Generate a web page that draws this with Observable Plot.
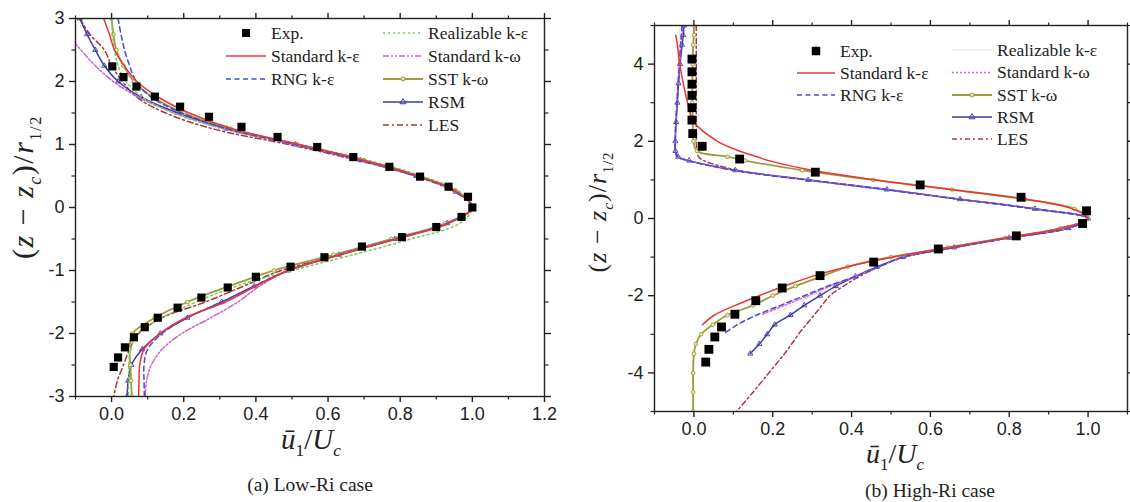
<!DOCTYPE html>
<html><head><meta charset="utf-8">
<script src="https://cdn.jsdelivr.net/npm/d3@7"></script>
<script src="https://cdn.jsdelivr.net/npm/@observablehq/plot@0.6"></script>
<style>
body{margin:0;background:#fff;}
#wrap{position:relative;width:1130px;height:502px;overflow:hidden;background:#fff;}
#a,#b{position:absolute;top:0;}
#a{left:0px} #b{left:570px}
</style></head><body><div id="wrap"><div id="a"></div><div id="b"></div></div>
<script>
// ---------------- DATA: (a) Low-Ri case ----------------
const lowY = [3,2.75,2.5,2.25,2,1.75,1.5,1.25,1,0.75,0.5,0.25,0,-0.25,-0.5,-0.75,-1,-1.25,-1.5,-1.75,-2,-2.25,-2.5,-2.75,-3];
const lowStdKe = [-0.022,-0.006,0.008,0.035,0.07,0.13,0.215,0.335,0.52,0.7,0.85,0.958,1.0,0.935,0.79,0.635,0.49,0.4,0.315,0.205,0.135,0.09,0.078,0.076,0.075];
const lowRNG   = [0.018,0.026,0.036,0.05,0.068,0.11,0.195,0.32,0.51,0.69,0.845,0.955,1.0,0.93,0.785,0.63,0.49,0.395,0.305,0.21,0.14,0.1,0.09,0.09,0.091];
const lowReal  = [0.0,0.003,0.008,0.018,0.04,0.085,0.17,0.31,0.52,0.71,0.86,0.965,1.0,0.965,0.83,0.67,0.5,0.345,0.235,0.14,0.072,0.052,0.048,0.047,0.047];
const lowStdKw = [-0.17,-0.125,-0.085,-0.045,0.005,0.075,0.175,0.31,0.505,0.69,0.845,0.955,1.0,0.93,0.785,0.63,0.49,0.41,0.35,0.275,0.195,0.14,0.11,0.097,0.093];
const lowSST   = [0.0,0.005,0.013,0.033,0.062,0.115,0.2,0.33,0.515,0.7,0.85,0.958,1.0,0.925,0.775,0.615,0.45,0.325,0.21,0.12,0.058,0.05,0.052,0.054,0.056];
const lowRSM   = [-0.088,-0.068,-0.045,-0.02,0.018,0.082,0.184,0.32,0.51,0.69,0.845,0.955,1.0,0.93,0.785,0.63,0.49,0.395,0.305,0.21,0.135,0.085,0.055,0.046,0.043];
const lowLES   = [-0.088,-0.06,-0.02,0.0,0.03,0.07,0.15,0.28,0.49,0.68,0.84,0.95,1.0,0.93,0.785,0.63,0.47,0.365,0.26,0.14,0.075,0.05,0.033,0.016,0.006];
const lowExpX  = [0.002,0.033,0.069,0.12,0.19,0.27,0.36,0.46,0.57,0.67,0.77,0.855,0.934,0.988,1.0,0.97,0.9,0.805,0.694,0.59,0.496,0.40,0.322,0.249,0.183,0.128,0.092,0.062,0.037,0.018,0.006];
const lowExpY  = [2.24,2.07,1.92,1.76,1.6,1.44,1.28,1.12,0.96,0.8,0.645,0.49,0.33,0.17,0.0,-0.15,-0.31,-0.47,-0.62,-0.79,-0.94,-1.10,-1.27,-1.43,-1.59,-1.75,-1.90,-2.06,-2.22,-2.38,-2.53];
const lowXMajor = [0,0.2,0.4,0.6,0.8,1.0,1.2];
const lowXMinor = [-0.1,0.1,0.3,0.5,0.7,0.9,1.1];
const lowYMajor = [-3,-2,-1,0,1,2,3];
const lowYMinor = [-2.5,-1.5,-0.5,0.5,1.5,2.5];

// ---------------- DATA: (b) High-Ri case ----------------
const highY = [5,4.75,4.5,4,3.5,3,2.5,2,1.75,1.6,1.5,1.25,1,0.75,0.5,0.25,0,-0.25,-0.5,-0.75,-1,-1.25,-1.5,-1.75,-2,-2.25,-2.5,-2.75,-3,-3.25,-3.5,-4,-4.5,-5];
const highStdKe = [null,-0.046,-0.042,-0.036,-0.027,-0.016,0.0,0.06,0.115,0.16,0.19,0.3,0.46,0.65,0.84,0.96,1.0,0.93,0.79,0.645,0.505,0.39,0.3,0.23,0.165,0.105,0.052,0.022,null,null,null,null,null,null];
const highRNG   = [-0.03,-0.032,-0.034,-0.037,-0.04,-0.043,-0.046,-0.048,-0.048,-0.042,-0.015,0.1,0.285,0.485,0.67,0.86,1.0,0.95,0.8,0.66,0.53,0.47,0.41,0.34,0.28,0.22,0.16,0.11,0.074,null,null,null,null,null];
const highReal  = [-0.035,-0.036,-0.038,-0.04,-0.042,-0.044,-0.046,-0.048,-0.048,-0.043,-0.018,0.1,0.28,0.48,0.67,0.86,1.0,0.95,0.8,0.66,0.53,0.47,0.41,0.35,0.3,0.25,0.2,null,null,null,null,null,null,null];
const highStdKw = [-0.028,-0.03,-0.033,-0.036,-0.04,-0.043,-0.046,-0.048,-0.048,-0.041,-0.013,0.103,0.288,0.488,0.673,0.862,1.0,0.95,0.8,0.66,0.53,0.47,0.41,0.345,0.29,0.23,0.17,null,null,null,null,null,null,null];
const highSST   = [0.0,0.0,-0.002,-0.003,-0.004,-0.004,-0.003,-0.001,0.008,0.085,0.13,0.275,0.455,0.655,0.84,0.965,1.0,0.93,0.79,0.645,0.5,0.39,0.325,0.258,0.2,0.15,0.085,0.048,0.018,0.005,0.0,-0.002,-0.002,-0.002];
const highRSM   = [-0.025,-0.027,-0.03,-0.035,-0.039,-0.042,-0.045,-0.047,-0.047,-0.04,-0.012,0.105,0.29,0.49,0.675,0.865,1.0,0.95,0.8,0.66,0.53,0.465,0.41,0.36,0.32,0.28,0.245,0.205,0.186,0.166,0.143,null,null,null];
const highLES   = [0.006,0.006,0.006,0.006,0.006,0.006,0.006,0.006,0.008,0.012,0.025,0.11,0.29,0.49,0.675,0.865,1.0,0.95,0.8,0.66,0.535,0.47,0.42,0.38,0.345,0.325,0.305,0.285,0.265,0.248,0.23,0.19,0.15,0.108];
const highExpX  = [-0.005,-0.005,-0.005,-0.005,-0.005,-0.005,-0.003,0.021,0.116,0.308,0.574,0.83,0.996,0.986,0.818,0.62,0.456,0.32,0.224,0.157,0.104,0.07,0.053,0.038,0.03];
const highExpY  = [4.13,3.8,3.48,3.19,2.87,2.55,2.2,1.87,1.54,1.2,0.87,0.55,0.2,-0.13,-0.45,-0.79,-1.13,-1.48,-1.8,-2.13,-2.48,-2.81,-3.07,-3.39,-3.72];
const highXMajor = [0,0.2,0.4,0.6,0.8,1.0];
const highXMinor = [-0.1,0.1,0.3,0.5,0.7,0.9,1.1];
const highYMajor = [-4,-2,0,2,4];
const highYMinor = [-5,-3,-1,1,3,5];

const seriesNames = ["Standard k-ε","RNG k-ε","Realizable k-ε","Standard k-ω","SST k-ω","RSM","LES"];

// ---------------- helpers ----------------
const rows = (ys, xs) => ys.map((y, i) => ({x: xs[i], y})).filter(d => d.x != null);
const SERIF = "'Liberation Serif','Times New Roman',serif";
const SANS = "'Liberation Sans',Arial,sans-serif";
const INK = "#222";

function makePanel(o) {
  const marks = [];
  for (const s of o.series) {
    const data = rows(o.ys, s.xs);
    marks.push(Plot.line(data, {x: "x", y: "y", stroke: s.color, strokeWidth: s.w || 1.5, strokeDasharray: s.dash, curve: "catmull-rom", clip: true}));
    if (s.marker) marks.push(Plot.dot(data, {x: "x", y: "y", symbol: s.marker, r: 1.9, stroke: s.color, fill: s.mfill || "none", strokeWidth: 0.9, clip: true}));
  }
  marks.push(Plot.dot(rows(o.expY, o.expX), {x: "x", y: "y", symbol: "square", r: o.expR, fill: "#000", stroke: "none"}));
  const fmtX = d => d.toFixed(1);
  const fmtY = d => String(d);
  const none = () => "";
  marks.push(
    Plot.frame({stroke: INK, strokeWidth: 1.4}),
    Plot.axisX({anchor: "bottom", ticks: o.xMajor, tickSize: 6, tickPadding: 5, tickFormat: fmtX, label: null, stroke: INK, strokeWidth: 1.4}),
    Plot.axisX({anchor: "bottom", ticks: o.xMinor, tickSize: 3.5, tickFormat: none, label: null, stroke: INK, strokeWidth: 1.2}),
    Plot.axisX({anchor: "top", ticks: o.xMajor, tickSize: 6, tickFormat: none, label: null, stroke: INK, strokeWidth: 1.4}),
    Plot.axisX({anchor: "top", ticks: o.xMinor, tickSize: 3.5, tickFormat: none, label: null, stroke: INK, strokeWidth: 1.2}),
    Plot.axisY({anchor: "left", ticks: o.yMajor, tickSize: 6, tickPadding: 5, tickFormat: fmtY, label: null, stroke: INK, strokeWidth: 1.4}),
    Plot.axisY({anchor: "left", ticks: o.yMinor, tickSize: 3.5, tickFormat: none, label: null, stroke: INK, strokeWidth: 1.2}),
    Plot.axisY({anchor: "right", ticks: o.yMajor, tickSize: 6, tickFormat: none, label: null, stroke: INK, strokeWidth: 1.4}),
    Plot.axisY({anchor: "right", ticks: o.yMinor, tickSize: 3.5, tickFormat: none, label: null, stroke: INK, strokeWidth: 1.2})
  );
  return Plot.plot({
    width: o.width, height: o.height,
    marginLeft: o.ml, marginRight: o.mr, marginTop: o.mt, marginBottom: o.mb,
    x: {domain: o.xDomain}, y: {domain: o.yDomain},
    style: {fontFamily: SANS, fontSize: "18px", color: INK, background: "transparent", overflow: "visible"},
    marks
  });
}

function addLegend(svg, o) {
  const g = d3.select(svg).append("g").attr("font-family", SERIF).attr("font-size", 17.5)
    .attr("fill", INK).attr("text-anchor", "start");
  const c1 = [{name: "Exp.", exp: true}, o.series[0], o.series[1]];
  c1.forEach((s, i) => {
    const y = o.y1[i];
    if (s.exp) {
      const r = o.expSide;
      g.append("rect").attr("x", o.c1x + (o.c1w - r) / 2).attr("y", y - r / 2).attr("width", r).attr("height", r).attr("fill", "#000");
    } else {
      g.append("line").attr("x1", o.c1x).attr("x2", o.c1x + o.c1w).attr("y1", y).attr("y2", y)
        .attr("stroke", s.color).attr("stroke-width", s.w || 1.5).attr("stroke-dasharray", s.dash || null);
    }
    g.append("text").attr("x", o.c1x + o.c1w + 5).attr("y", y).attr("dy", "0.33em").text(s.exp ? "Exp." : s.name);
  });
  o.series.slice(2).forEach((s, i) => {
    const y = o.y2[i];
    g.append("line").attr("x1", o.c2x).attr("x2", o.c2x + o.c2w).attr("y1", y).attr("y2", y)
      .attr("stroke", s.color).attr("stroke-width", s.w || 1.5).attr("stroke-dasharray", s.dash || null);
    if (s.marker === "circle") g.append("circle").attr("cx", o.c2x + o.c2w / 2).attr("cy", y).attr("r", 2).attr("stroke", s.color).attr("fill", s.mfill || "none");
    if (s.marker === "triangle") g.append("path").attr("d", d3.symbol(d3.symbolTriangle, 16)()).attr("transform", `translate(${o.c2x + o.c2w / 2},${y})`).attr("stroke", s.color).attr("fill", "none");
    g.append("text").attr("x", o.c2x + o.c2w + 5).attr("y", y).attr("dy", "0.33em").text(s.name);
  });
}

function yLabel(svg, x, y, size, spacing) {
  const t = d3.select(svg).append("text").attr("transform", `translate(${x},${y}) rotate(-90)`)
    .attr("text-anchor", "middle").attr("font-family", SERIF).attr("font-size", size).attr("fill", INK)
    .attr("letter-spacing", spacing);
  t.append("tspan").text("(");
  t.append("tspan").attr("font-style", "italic").text("z");
  t.append("tspan").text(" − ");
  t.append("tspan").attr("font-style", "italic").text("z");
  t.append("tspan").attr("font-style", "italic").attr("font-size", size * 0.6).attr("dy", size * 0.25).text("c");
  t.append("tspan").attr("dy", -size * 0.25).text(")/");
  t.append("tspan").attr("font-style", "italic").text("r");
  t.append("tspan").attr("font-size", size * 0.55).attr("dy", size * 0.25).text("1/2");
}
function xLabel(svg, x, y, size) {
  const t = d3.select(svg).append("text").attr("x", x).attr("y", y)
    .attr("text-anchor", "middle").attr("font-family", SERIF).attr("font-size", size).attr("fill", INK);
  t.append("tspan").attr("font-style", "italic").text("ū");
  t.append("tspan").attr("font-size", size * 0.6).attr("dy", size * 0.25).text("1");
  t.append("tspan").attr("dy", -size * 0.25).text("/");
  t.append("tspan").attr("font-style", "italic").text("U");
  t.append("tspan").attr("font-style", "italic").attr("font-size", size * 0.6).attr("dy", size * 0.25).text("c");
}
function caption(svg, x, y, size, txt) {
  d3.select(svg).append("text").attr("x", x).attr("y", y).attr("text-anchor", "middle")
    .attr("font-family", SERIF).attr("font-size", size).attr("fill", INK).text(txt);
}

// ---------------- panel (a) ----------------
const lowSeries = [
  {name: seriesNames[0], xs: lowStdKe, color: "#ee3535"},
  {name: seriesNames[1], xs: lowRNG, color: "#3d4fd8", dash: "5,3.5"},
  {name: seriesNames[2], xs: lowReal, color: "#78cc58", dash: "2,3"},
  {name: seriesNames[3], xs: lowStdKw, color: "#d45ed4", dash: "6,2,2,2,2,2"},
  {name: seriesNames[4], xs: lowSST, color: "#9c9c3a", marker: "circle", mfill: "#e8e8b0", w: 1.8},
  {name: seriesNames[5], xs: lowRSM, color: "#3b3ba8", marker: "triangle"},
  {name: seriesNames[6], xs: lowLES, color: "#a83838", dash: "6,3,2,3"}
];
const svgA = makePanel({
  width: 565, height: 502, ml: 75, mr: 21, mt: 18, mb: 106,
  xDomain: [-0.1, 1.2], yDomain: [-3, 3],
  xMajor: lowXMajor, xMinor: lowXMinor, yMajor: lowYMajor, yMinor: lowYMinor,
  ys: lowY, series: lowSeries.slice().reverse(), expX: lowExpX, expY: lowExpY, expR: 4.6
});
addLegend(svgA, {series: lowSeries, c1x: 226, c1w: 40, c2x: 383, c2w: 40, y1: [33, 56, 79], y2: [33, 56, 79, 102, 125], expSide: 8});
yLabel(svgA, 33, 187, 30, 1.5);
xLabel(svgA, 311, 449, 29);
caption(svgA, 310, 491, 19.5, "(a) Low-Ri case");
document.getElementById("a").appendChild(svgA);

// ---------------- panel (b) ----------------
const highSeries = [
  {name: seriesNames[0], xs: highStdKe, color: "#ee3535"},
  {name: seriesNames[1], xs: highRNG, color: "#4a4ad0", dash: "5,3.5"},
  {name: seriesNames[2], xs: highReal, color: "#ececec"},
  {name: seriesNames[3], xs: highStdKw, color: "#d46ad4", dash: "2,2"},
  {name: seriesNames[4], xs: highSST, color: "#9c9c3a", marker: "circle", mfill: "#e8e8b0", w: 1.8},
  {name: seriesNames[5], xs: highRSM, color: "#3b3ba8", marker: "triangle"},
  {name: seriesNames[6], xs: highLES, color: "#a83850", dash: "5,3,2,3"}
];
const svgB = makePanel({
  width: 560, height: 502, ml: 84, mr: 3, mt: 25, mb: 91,
  xDomain: [-0.1, 1.1], yDomain: [-5, 5],
  xMajor: highXMajor, xMinor: highXMinor, yMajor: highYMajor, yMinor: highYMinor,
  ys: highY, series: [highSeries[2]].concat(highSeries.filter((s, i) => i !== 2).reverse()), expX: highExpX, expY: highExpY, expR: 5
});
addLegend(svgB, {series: highSeries, c1x: 227, c1w: 38, c2x: 382, c2w: 40, y1: [51, 73, 95], y2: [50, 72.5, 95, 117, 139], expSide: 8.5});
yLabel(svgB, 36, 212, 26, 1);
xLabel(svgB, 325, 463, 28);
caption(svgB, 360, 497, 19.5, "(b) High-Ri case");
document.getElementById("b").appendChild(svgB);
</script>
</body></html>
